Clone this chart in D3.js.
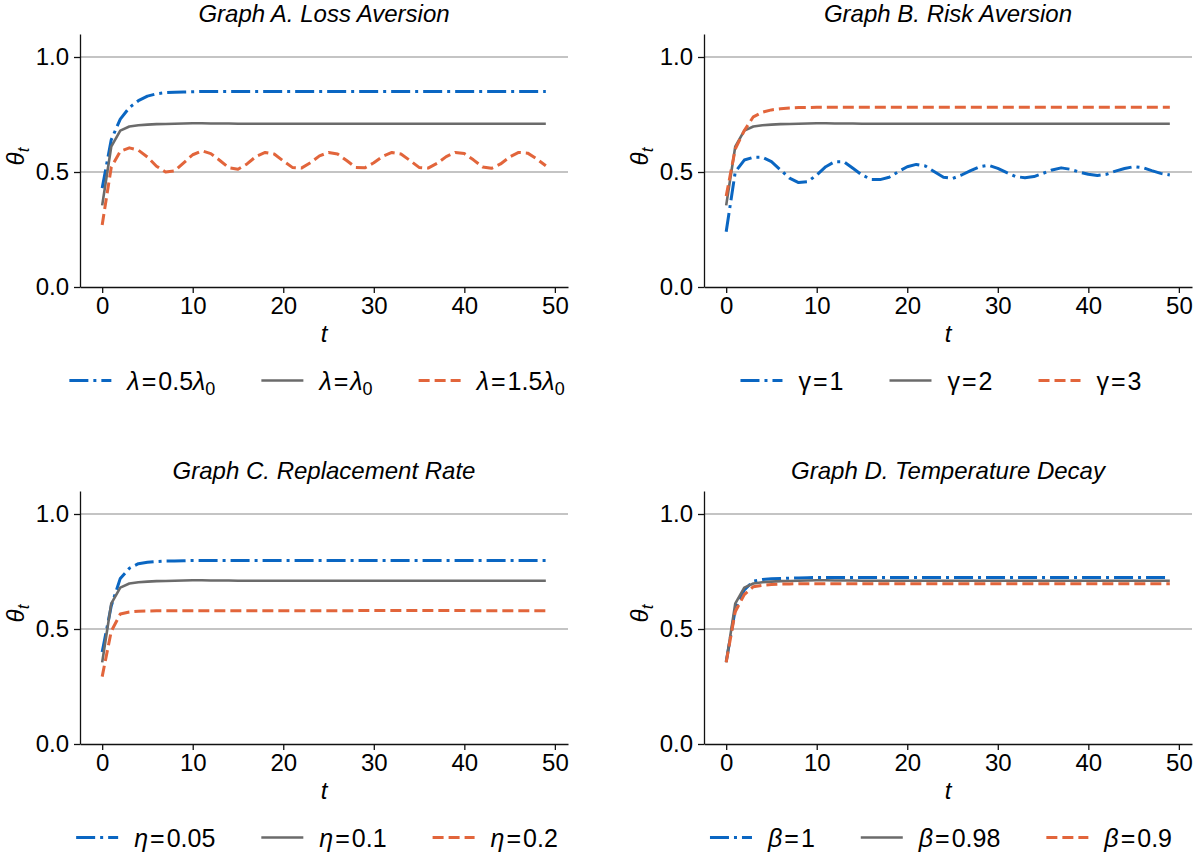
<!DOCTYPE html>
<html>
<head>
<meta charset="utf-8">
<script src="https://cdn.jsdelivr.net/npm/d3@7"></script>
<style>
  body { margin: 0; background: #fff; }
  svg { font-family: "Liberation Sans", Arial, sans-serif; }
</style>
</head>
<body>
<svg id="chart" width="1195" height="854"></svg>
<script>
// t = 0..49, one value per period
const baseline = [
  0.355, 0.61, 0.68, 0.698, 0.703, 0.706, 0.708, 0.709, 0.71, 0.711,
  0.712, 0.712, 0.711, 0.711, 0.711, 0.71, 0.71, 0.71, 0.71, 0.71,
  0.71, 0.71, 0.71, 0.71, 0.71, 0.71, 0.71, 0.71, 0.71, 0.71,
  0.71, 0.71, 0.71, 0.71, 0.71, 0.71, 0.71, 0.71, 0.71, 0.71,
  0.71, 0.71, 0.71, 0.71, 0.71, 0.71, 0.71, 0.71, 0.71, 0.71
];

const lossLow = [
  0.43, 0.64, 0.73, 0.78, 0.81, 0.83, 0.84, 0.845, 0.847, 0.848,
  0.849, 0.85, 0.85, 0.85, 0.85, 0.85, 0.85, 0.85, 0.85, 0.85,
  0.85, 0.85, 0.85, 0.85, 0.85, 0.85, 0.85, 0.85, 0.85, 0.85,
  0.85, 0.85, 0.85, 0.85, 0.85, 0.85, 0.85, 0.85, 0.85, 0.85,
  0.85, 0.85, 0.85, 0.85, 0.85, 0.85, 0.85, 0.85, 0.85, 0.85
];
const lossHigh = [
  0.27, 0.52, 0.59, 0.605, 0.595, 0.565, 0.525, 0.5, 0.505, 0.54,
  0.575, 0.592, 0.58, 0.55, 0.518, 0.512, 0.535, 0.568, 0.585, 0.578,
  0.548, 0.52, 0.517, 0.54, 0.57, 0.585, 0.578, 0.55, 0.52, 0.518,
  0.54, 0.568, 0.585, 0.578, 0.55, 0.52, 0.517, 0.538, 0.567, 0.585,
  0.58, 0.553, 0.522, 0.516, 0.535, 0.565, 0.585, 0.582, 0.557, 0.527
];

const riskG1 = [
  0.24, 0.5, 0.552, 0.564, 0.564, 0.545, 0.509, 0.473, 0.454, 0.458,
  0.487, 0.523, 0.545, 0.545, 0.516, 0.487, 0.468, 0.467, 0.477, 0.501,
  0.523, 0.533, 0.526, 0.501, 0.477, 0.472, 0.487, 0.506, 0.523, 0.529,
  0.516, 0.497, 0.48, 0.475, 0.48, 0.494, 0.509, 0.518, 0.512, 0.5,
  0.49, 0.485, 0.49, 0.504, 0.515, 0.523, 0.519, 0.506, 0.494, 0.487
];
const riskG3 = [
  0.395, 0.6, 0.68, 0.74, 0.76, 0.77, 0.775, 0.778, 0.78, 0.78,
  0.781, 0.781, 0.781, 0.781, 0.781, 0.781, 0.781, 0.781, 0.781, 0.781,
  0.781, 0.781, 0.781, 0.781, 0.781, 0.781, 0.781, 0.781, 0.781, 0.781,
  0.781, 0.781, 0.781, 0.781, 0.781, 0.781, 0.781, 0.781, 0.781, 0.781,
  0.781, 0.781, 0.781, 0.781, 0.781, 0.781, 0.781, 0.781, 0.781, 0.781
];

const replLow = [
  0.4, 0.6, 0.72, 0.764, 0.784, 0.79, 0.793, 0.795, 0.796, 0.797,
  0.798, 0.798, 0.798, 0.798, 0.798, 0.798, 0.798, 0.798, 0.798, 0.798,
  0.798, 0.798, 0.798, 0.798, 0.798, 0.798, 0.798, 0.798, 0.798, 0.798,
  0.798, 0.798, 0.798, 0.798, 0.798, 0.798, 0.798, 0.798, 0.798, 0.798,
  0.798, 0.798, 0.798, 0.798, 0.798, 0.798, 0.798, 0.798, 0.798, 0.798
];
const replHigh = [
  0.293, 0.49, 0.565, 0.574, 0.577, 0.578, 0.579, 0.579, 0.579, 0.579,
  0.579, 0.579, 0.579, 0.579, 0.579, 0.579, 0.579, 0.579, 0.579, 0.579,
  0.579, 0.579, 0.579, 0.579, 0.579, 0.579, 0.579, 0.579, 0.58, 0.58,
  0.58, 0.58, 0.58, 0.58, 0.58, 0.58, 0.58, 0.58, 0.58, 0.58,
  0.58, 0.579, 0.579, 0.579, 0.579, 0.579, 0.579, 0.579, 0.579, 0.579
];

const decayOne = [
  0.358, 0.585, 0.67, 0.708, 0.715, 0.718, 0.72, 0.721, 0.722, 0.723,
  0.724, 0.724, 0.724, 0.724, 0.724, 0.724, 0.724, 0.724, 0.724, 0.724,
  0.724, 0.724, 0.724, 0.724, 0.724, 0.724, 0.724, 0.724, 0.724, 0.724,
  0.724, 0.724, 0.724, 0.724, 0.724, 0.724, 0.724, 0.724, 0.724, 0.724,
  0.724, 0.724, 0.724, 0.724, 0.724, 0.724, 0.724, 0.724, 0.724, 0.724
];
const decayLow = [
  0.355, 0.575, 0.65, 0.684, 0.69, 0.693, 0.695, 0.696, 0.697, 0.697,
  0.697, 0.697, 0.697, 0.697, 0.697, 0.697, 0.697, 0.697, 0.697, 0.697,
  0.697, 0.697, 0.697, 0.697, 0.697, 0.697, 0.697, 0.697, 0.697, 0.697,
  0.697, 0.697, 0.697, 0.697, 0.697, 0.697, 0.697, 0.697, 0.697, 0.697,
  0.697, 0.697, 0.697, 0.697, 0.697, 0.697, 0.697, 0.697, 0.697, 0.697
];

const xTicks = [0, 10, 20, 30, 40, 50];
const yTicks = [0, 0.5, 1.0];

// legend labels: [text, style] pieces, "i" = italic, "sub" = subscript, "eq" = spaced equals
const panels = [
  { title: "Graph A. Loss Aversion", dx: 80, dy: 34,
    series: [lossLow, baseline, lossHigh],
    labels: [
      [["λ", "i"], ["=", "eq"], ["0.5"], ["λ", "i"], ["0", "sub"]],
      [["λ", "i"], ["=", "eq"], ["λ", "i"], ["0", "sub"]],
      [["λ", "i"], ["=", "eq"], ["1.5"], ["λ", "i"], ["0", "sub"]]
    ] },
  { title: "Graph B. Risk Aversion", dx: 704, dy: 34,
    series: [riskG1, baseline, riskG3],
    labels: [[["γ"], ["=", "eq"], ["1"]], [["γ"], ["=", "eq"], ["2"]], [["γ"], ["=", "eq"], ["3"]]] },
  { title: "Graph C. Replacement Rate", dx: 80, dy: 491,
    series: [replLow, baseline, replHigh],
    labels: [[["η", "i"], ["=", "eq"], ["0.05"]], [["η", "i"], ["=", "eq"], ["0.1"]], [["η", "i"], ["=", "eq"], ["0.2"]]] },
  { title: "Graph D. Temperature Decay", dx: 704, dy: 491,
    series: [decayOne, baseline, decayLow],
    labels: [[["β", "i"], ["=", "eq"], ["1"]], [["β", "i"], ["=", "eq"], ["0.98"]], [["β", "i"], ["=", "eq"], ["0.9"]]] }
];

const styles = [
  { color: "#0a66c2", dash: "19,5,3,5", width: 3 },
  { color: "#6b6b6b", dash: null, width: 2.6 },
  { color: "#e2653b", dash: "11,5", width: 3 }
];

const W = 488, H = 253;
const FS = 24, LFS = 25;
const svg = d3.select("#chart");

const x = d3.scaleLinear().domain([-2.45, 51.45]).range([0, W]);
const y = d3.scaleLinear().domain([0, 1.1]).range([H, 0]);

const line = d3.line()
  .x((d, i) => x(i))
  .y(d => y(d));

function richText(sel, parts, subSize) {
  parts.forEach(p => {
    const ts = sel.append("tspan").text(p[0]);
    if (p[1] === "i") ts.style("font-style", "italic");
    if (p[1] === "eq") ts.attr("dx", 2);
    if (p[1] === "sub") ts.attr("dy", "0.3em").style("font-size", subSize + "px");
    if (sel.node().lastChild.previousSibling && sel.node().lastChild.previousSibling.__eq) ts.attr("dx", 2);
    ts.node().__eq = p[1] === "eq";
  });
}

panels.forEach(p => {
  const g = svg.append("g").attr("transform", `translate(${p.dx},${p.dy})`);

  // grid
  g.selectAll(".grid")
    .data(yTicks.filter(v => v > 0))
    .enter().append("line")
    .attr("x1", 0).attr("x2", W)
    .attr("y1", d => y(d)).attr("y2", d => y(d))
    .attr("stroke", "#b0b0b0")
    .attr("stroke-width", 1.5);

  const xAxis = g.append("g")
    .attr("transform", `translate(0,${H})`)
    .call(d3.axisBottom(x).tickValues(xTicks).tickSize(6).tickPadding(4).tickSizeOuter(0));
  const yAxis = g.append("g")
    .call(d3.axisLeft(y).tickValues(yTicks).tickFormat(d3.format(".1f")).tickSize(6).tickPadding(5).tickSizeOuter(0));

  [xAxis, yAxis].forEach(a => {
    a.selectAll("path, line").attr("stroke", "#111").attr("stroke-width", 1.3);
    a.selectAll("text").attr("fill", "#000").style("font-size", FS + "px")
      .style("font-family", "'Liberation Sans', Arial, sans-serif");
  });

  // series
  p.series.forEach((s, k) => {
    g.append("path")
      .datum(s)
      .attr("d", line)
      .attr("fill", "none")
      .attr("stroke", styles[k].color)
      .attr("stroke-width", styles[k].width)
      .attr("stroke-dasharray", styles[k].dash)
      .attr("stroke-linejoin", "round");
  });

  g.append("text")
    .attr("x", W / 2).attr("y", -12)
    .attr("text-anchor", "middle")
    .style("font-size", FS + "px")
    .style("font-style", "italic")
    .text(p.title);

  g.append("text")
    .attr("x", W / 2).attr("y", H + 55)
    .attr("text-anchor", "middle")
    .style("font-size", FS + "px")
    .style("font-style", "italic")
    .text("t");

  const yl = g.append("text")
    .attr("transform", `translate(-56,${H / 2 - 4}) rotate(-90)`)
    .attr("text-anchor", "middle")
    .style("font-size", FS + "px")
    .style("font-style", "italic");
  richText(yl, [["θ", "i"], ["t", "sub"]], 17);

  // legend
  const leg = g.append("g");
  let cx = 0;
  p.labels.forEach((lab, k) => {
    const item = leg.append("g").attr("transform", `translate(${cx},0)`);
    item.append("line")
      .attr("x1", 0).attr("x2", 42)
      .attr("y1", 0).attr("y2", 0)
      .attr("stroke", styles[k].color)
      .attr("stroke-width", styles[k].width)
      .attr("stroke-dasharray", styles[k].dash);
    const txt = item.append("text")
      .attr("x", 58).attr("y", 9)
      .style("font-size", LFS + "px");
    richText(txt, lab, 18);
    cx += 58 + txt.node().getComputedTextLength() + 4 + 46;
  });
  const legW = cx - 46;
  leg.attr("transform", `translate(${W / 2 - 7 - legW / 2},${H + 93.5})`);
});
</script>
</body>
</html>
